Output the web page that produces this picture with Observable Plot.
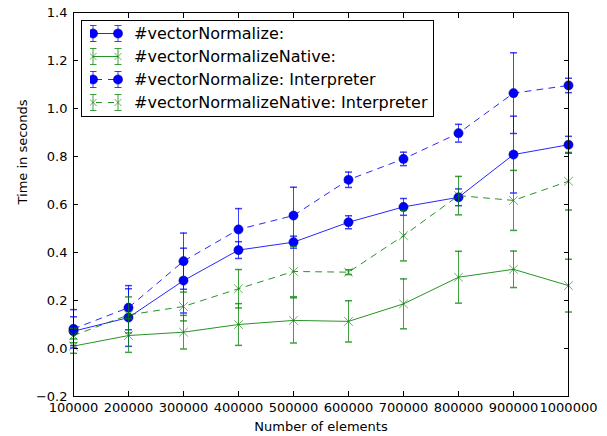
<!DOCTYPE html>
<html>
<head>
<meta charset="utf-8">
<script src="https://cdn.jsdelivr.net/npm/d3@7"></script>
<script src="https://cdn.jsdelivr.net/npm/@observablehq/plot@0.6"></script>
<style>
  html, body { margin: 0; padding: 0; background: #fff; }
  #wrap { position: relative; width: 607px; height: 436px; font-family: "DejaVu Sans", sans-serif; }
  #legend { position: absolute; left: 81px; top: 20px; width: 353px; height: 97px; border: 1px solid #000; background: #fff; box-sizing: border-box; }
  .row { position: absolute; left: 0; height: 23px; display: flex; align-items: center; }
  .row svg { margin-left: 8px; }
  .row span { position: absolute; left: 52px; font-size: 16px; white-space: nowrap; color: #000; }
</style>
</head>
<body>
<div id="wrap"><div id="chart"></div><div id="legend"></div></div>
<script>
const sizes = [100000, 200000, 300000, 400000, 500000, 600000, 700000, 800000, 900000, 1000000];
const yTicks = [-0.2, 0.0, 0.2, 0.4, 0.6, 0.8, 1.0, 1.2, 1.4];
const xLabel = "Number of elements";
const yLabel = "Time in seconds";

const seriesNames = ["#vectorNormalize:", "#vectorNormalizeNative:", "#vectorNormalize: Interpreter", "#vectorNormalizeNative: Interpreter"];
const vn      = [0.072, 0.129, 0.283, 0.410, 0.443, 0.526, 0.590, 0.630, 0.808, 0.849];
const vnErr   = [0.060, 0.120, 0.135, 0.035, 0.025, 0.027, 0.035, 0.035, 0.160, 0.035];
const vnn     = [0.010, 0.054, 0.068, 0.100, 0.117, 0.113, 0.186, 0.297, 0.330, 0.262];
const vnnErr  = [0.030, 0.070, 0.070, 0.087, 0.094, 0.086, 0.104, 0.108, 0.076, 0.110];
const vni     = [0.082, 0.170, 0.364, 0.496, 0.554, 0.703, 0.790, 0.897, 1.064, 1.096];
const vniErr  = [0.080, 0.092, 0.117, 0.087, 0.118, 0.032, 0.028, 0.037, 0.168, 0.030];
const vnni    = [0.054, 0.140, 0.175, 0.249, 0.321, 0.318, 0.470, 0.637, 0.617, 0.697];
const vnniErr = [0.030, 0.075, 0.060, 0.080, 0.105, 0.010, 0.105, 0.080, 0.125, 0.120];

const blue = "#0000ff", green = "#008000";
const styles = [
  {color: blue, dash: null, marker: "circle"},
  {color: green, dash: null, marker: "times"},
  {color: blue, dash: "6,6", marker: "circle"},
  {color: green, dash: "6,6", marker: "times"}
];
const values = [vn, vnn, vni, vnni];
const errors = [vnErr, vnnErr, vniErr, vnniErr];

const capSymbol = {draw(ctx, size) { const w = Math.sqrt(size / Math.PI); ctx.moveTo(-w, 0); ctx.lineTo(w, 0); }};

const marks = [];
values.forEach((vals, i) => {
  const st = styles[i];
  const data = sizes.map((x, j) => ({x, y: vals[j], e: errors[i][j]}));
  marks.push(Plot.ruleX(data, {x: "x", y1: d => d.y - d.e, y2: d => d.y + d.e, stroke: st.color, strokeOpacity: 0.75, strokeWidth: 1}));
  marks.push(Plot.dot(data, {x: "x", y: d => d.y - d.e, symbol: capSymbol, r: 3.5, stroke: st.color, strokeOpacity: 0.75, fill: "none"}));
  marks.push(Plot.dot(data, {x: "x", y: d => d.y + d.e, symbol: capSymbol, r: 3.5, stroke: st.color, strokeOpacity: 0.75, fill: "none"}));
  marks.push(Plot.line(data, {x: "x", y: "y", stroke: st.color, strokeOpacity: 0.85, strokeWidth: 1, strokeDasharray: st.dash}));
  if (st.marker === "circle") {
    marks.push(Plot.dot(data, {x: "x", y: "y", r: 4.6, fill: st.color, stroke: "#000080", strokeWidth: 0.5}));
  } else {
    marks.push(Plot.dot(data, {x: "x", y: "y", symbol: "times", r: 4, stroke: st.color, strokeOpacity: 0.6, strokeWidth: 1}));
  }
});

const chart = Plot.plot({
  width: 607, height: 436,
  marginLeft: 73, marginRight: 39, marginTop: 12, marginBottom: 40,
  style: {fontFamily: "DejaVu Sans", fontSize: "13px", background: "#fff", color: "#000", overflow: "visible"},
  x: {domain: [100000, 1000000]},
  y: {domain: [-0.2, 1.4]},
  marks: [
    ...marks,
    Plot.frame({stroke: "#000", strokeWidth: 1}),
    Plot.axisX(sizes, {anchor: "bottom", tickSize: -5, tickPadding: 11, tickFormat: d => String(d), label: null, fontSize: 13}),
    Plot.axisX(sizes, {anchor: "top", tickSize: -5, tickFormat: () => "", label: null}),
    Plot.axisY(yTicks, {anchor: "left", tickSize: -5, tickPadding: 11, tickFormat: d3.format(".1f"), label: null, fontSize: 13}),
    Plot.axisY(yTicks, {anchor: "right", tickSize: -5, tickFormat: () => "", label: null}),
    Plot.text([xLabel], {text: d => d, frameAnchor: "bottom", lineAnchor: "top", dy: 25, fontSize: 13}),
    Plot.text([yLabel], {text: d => d, frameAnchor: "left", rotate: -90, dx: -51, fontSize: 13})
  ]
});
document.getElementById("chart").appendChild(chart);

// legend
const legend = document.getElementById("legend");
seriesNames.forEach((name, i) => {
  const st = styles[i];
  const row = document.createElement("div");
  row.className = "row";
  row.style.top = (0.5 + i * 23.3) + "px";
  const ns = "http://www.w3.org/2000/svg";
  const svg = document.createElementNS(ns, "svg");
  svg.setAttribute("width", 34); svg.setAttribute("height", 23);
  const x0 = 3, x1 = 28, cy = 11.5;
  const line = document.createElementNS(ns, "line");
  line.setAttribute("x1", x0); line.setAttribute("x2", x1); line.setAttribute("y1", cy); line.setAttribute("y2", cy);
  line.setAttribute("stroke", st.color); line.setAttribute("stroke-opacity", 0.85);
  if (st.dash) line.setAttribute("stroke-dasharray", "6,6"), line.setAttribute("stroke-dashoffset", "-3");
  svg.appendChild(line);
  [x0, x1].forEach(x => {
    const parts = [[x, cy - 8, x, cy + 8], [x - 3.5, cy - 8, x + 3.5, cy - 8], [x - 3.5, cy + 8, x + 3.5, cy + 8]];
    parts.forEach(p => {
      const l = document.createElementNS(ns, "line");
      l.setAttribute("x1", p[0]); l.setAttribute("y1", p[1]); l.setAttribute("x2", p[2]); l.setAttribute("y2", p[3]);
      l.setAttribute("stroke", st.color); l.setAttribute("stroke-opacity", 0.75);
      svg.appendChild(l);
    });
    if (st.marker === "circle") {
      const c = document.createElementNS(ns, "circle");
      c.setAttribute("cx", x); c.setAttribute("cy", cy); c.setAttribute("r", 4.6);
      c.setAttribute("fill", st.color); c.setAttribute("stroke", "#000080"); c.setAttribute("stroke-width", 0.5);
      svg.appendChild(c);
    } else {
      const p = document.createElementNS(ns, "path");
      p.setAttribute("d", `M${x-3.5},${cy-3.5}L${x+3.5},${cy+3.5}M${x-3.5},${cy+3.5}L${x+3.5},${cy-3.5}`);
      p.setAttribute("stroke", st.color); p.setAttribute("stroke-opacity", 0.6);
      svg.appendChild(p);
    }
  });
  row.appendChild(svg);
  const span = document.createElement("span");
  span.textContent = name;
  row.appendChild(span);
  legend.appendChild(row);
});
</script>
</body>
</html>
